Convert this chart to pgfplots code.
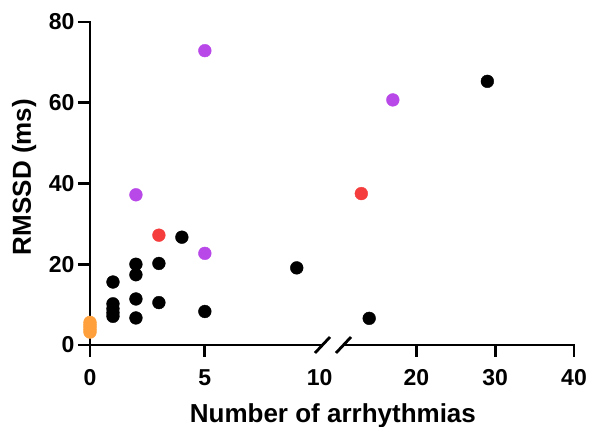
\documentclass[border=0pt]{standalone}
\usepackage{fontspec}
\setmainfont{Liberation Sans}
\usepackage{pgfplots}
\pgfplotsset{compat=1.18}
\definecolor{mpurple}{HTML}{B948E8}
\definecolor{mred}{HTML}{F53D3D}
\definecolor{morange}{HTML}{FFA03C}
\begin{document}
\begin{tikzpicture}
\useasboundingbox (0pt,0pt) rectangle (590pt,427pt);
\pgfplotsset{
  common/.style={
    scale only axis, height=323pt, ymin=0, ymax=80,
    axis line style={line width=2.8pt},
    tick align=outside,
    major tick length=12pt,
    xtick style={line width=2.8pt, black, solid},
    ytick style={line width=2.8pt, black, solid},
    clip=false,
    ticklabel style={font=\bfseries\fontsize{23}{23}\selectfont},
    xticklabel style={yshift=-9pt},
    /pgf/number format/assume math mode=true,
    label style={font=\bfseries\fontsize{26}{26}\selectfont},
  },
  mdot/.style={only marks, mark=*, mark size=6.4pt, mark options={draw=#1, fill=#1}},
}
\begin{axis}[common,
  at={(90pt,82pt)}, anchor=south west, width=232pt,
  xmin=0, xmax=10.1,
  xtick={0,5},
  ytick={0,20,40,60,80},
  axis x line*=bottom, axis y line*=left,
  xlabel={Number of arrhythmias},
  xlabel style={at={(axis description cs:1.047,-0.2415)}, anchor=base},
  ylabel={RMSSD (ms)},
  ylabel style={at={(axis description cs:-0.284,0.52)}, anchor=center},
]
\addplot[mdot=black] coordinates {(1,15.6) (1,10.2) (1,9.0) (1,8.0) (1,7.1) (2,20.0) (2,17.4) (2,11.4) (2,6.7) (3,20.2) (3,10.5) (4,26.7) (5,8.3) (9,19.1)};
\addplot[mdot=mpurple] coordinates {(2,37.2) (5,22.7) (5,72.9)};
\addplot[mdot=mred] coordinates {(3,27.2)};
\addplot[mdot=morange] coordinates {(0,3.2) (0,3.8) (0,4.4) (0,5.0) (0,5.6)};
\node[anchor=north, yshift=-21pt, font=\bfseries\fontsize{23}{23}\selectfont] at (axis cs:10,0) {10};
\end{axis}
\begin{axis}[common,
  at={(344pt,82pt)}, anchor=south west, width=230pt,
  xmin=10.8, xmax=40,
  xtick={20,30,40}, ytick=\empty,
  axis x line*=bottom, axis y line=none,
]
\addplot[mdot=black] coordinates {(14,6.6) (29,65.3)};
\addplot[mdot=mpurple] coordinates {(17,60.7)};
\addplot[mdot=mred] coordinates {(13,37.5)};
\end{axis}
% tick marks (axis decoration)
\fill[black] (88.6pt,70pt) rectangle (91.4pt,83.4pt);
\fill[black] (203.45pt,70pt) rectangle (206.25pt,83.4pt);
\fill[black] (415.07pt,70pt) rectangle (417.87pt,83.4pt);
\fill[black] (493.83pt,70pt) rectangle (496.63pt,83.4pt);
\fill[black] (572.6pt,70pt) rectangle (575.4pt,83.4pt);
\fill[black] (78pt,80.6pt) rectangle (91.4pt,83.4pt);
\fill[black] (78pt,161.35pt) rectangle (91.4pt,164.15pt);
\fill[black] (78pt,242.1pt) rectangle (91.4pt,244.9pt);
\fill[black] (78pt,322.85pt) rectangle (91.4pt,325.65pt);
\fill[black] (78pt,403.6pt) rectangle (91.4pt,406.4pt);
\draw[line width=2.8pt] (315pt,74pt) -- (330pt,90pt);
\draw[line width=2.8pt] (336pt,74pt) -- (351pt,90pt);
\end{tikzpicture}
\end{document}
